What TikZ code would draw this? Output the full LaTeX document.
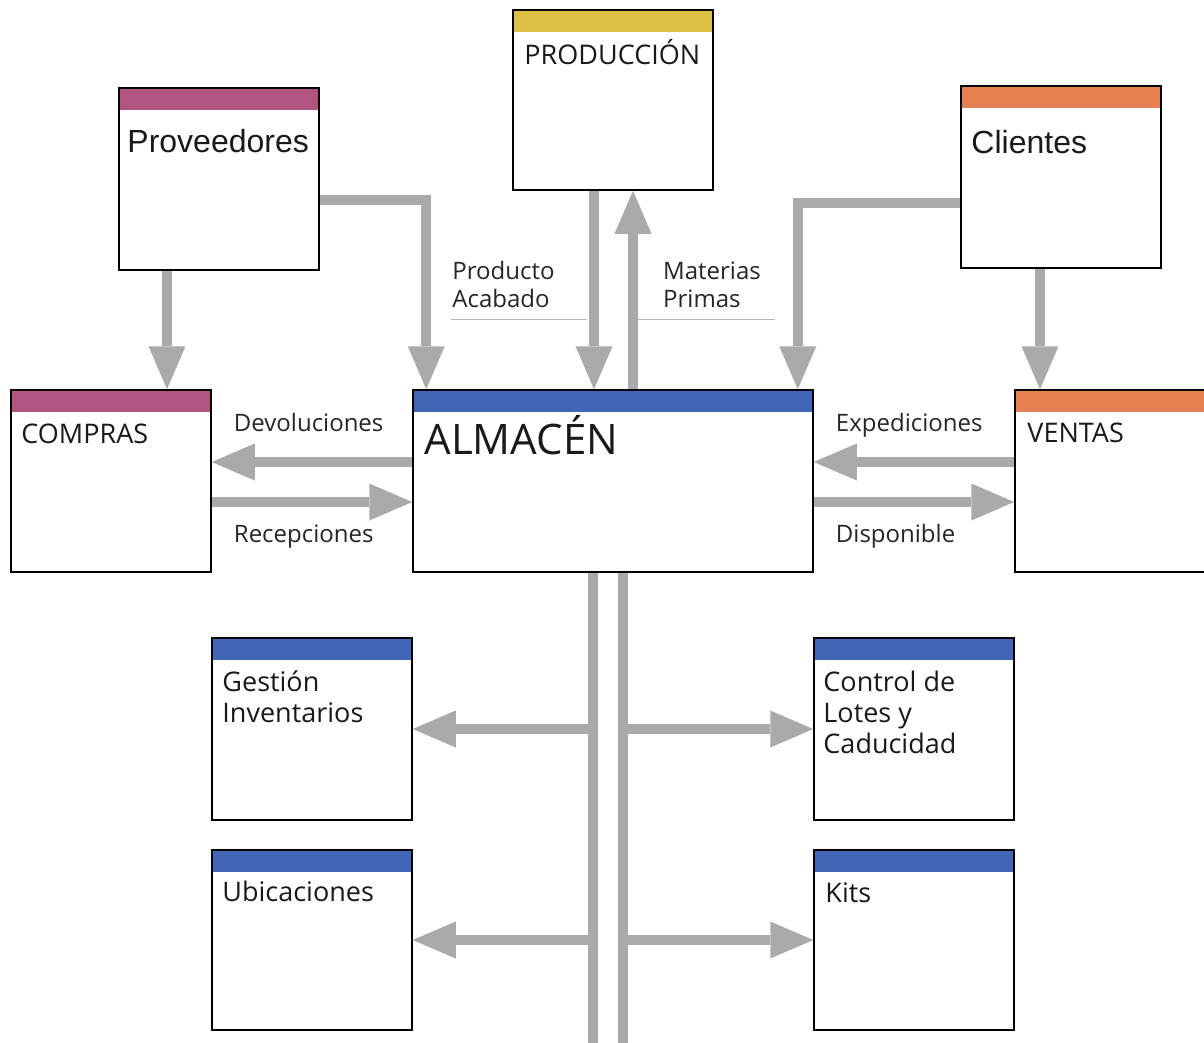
\documentclass[tikz,border=0pt]{standalone}
\usepackage{fontspec}
\setmainfont{Open Sans}
\newfontfamily\finafont{Liberation Sans}
\usetikzlibrary{positioning}
\usetikzlibrary{arrows.meta}
\definecolor{cabMagenta}{RGB}{178,84,128}
\definecolor{cabNaranja}{RGB}{228,128,82}
\definecolor{cabAmarillo}{RGB}{222,192,72}
\definecolor{cabAzul}{RGB}{66,102,182}
\definecolor{grisFlecha}{RGB}{170,170,170}
\definecolor{grisRaya}{RGB}{185,185,185}

\begin{document}
\begin{tikzpicture}[x=1pt,y=-1pt,
  modulo/.style={rectangle,draw=black,line width=1.5pt,minimum width=200pt,minimum height=182pt,inner sep=0pt,
    path picture={\fill[#1] (path picture bounding box.north west) rectangle ([yshift=-22pt]path picture bounding box.north east);}},
  titulo/.style={inner sep=0pt,align=left,font=\fontsize{27}{31}\selectfont,text=black!90},
  fino/.style={inner sep=0pt,font=\finafont\fontsize{32}{38}\selectfont,text=black!90},
  etiqueta/.style={inner sep=0pt,align=left,font=\fontsize{24}{28}\selectfont,text=black!85},
  flecha/.style={draw=grisFlecha,line width=10pt,-{Triangle[width=37pt,length=43pt,line width=0pt]}},
  bus/.style={draw=grisFlecha,line width=10pt},
  raya/.style={draw=grisRaya,line width=1.2pt}]

  \useasboundingbox (0,0) rectangle (1204,1042);

  % cajas
  \node[modulo=cabAzul,minimum width=400pt] (almacen) at (613,481) {};
  \node[modulo=cabMagenta] (compras) [left=502pt of almacen.center,anchor=center] {};
  \node[modulo=cabNaranja] (ventas) [right=502pt of almacen.center,anchor=center] {};
  \node[modulo=cabAmarillo,minimum height=180pt] (produccion) [above=381pt of almacen.center,anchor=center] {};
  \node[modulo=cabMagenta] (proveedores) [above left=302pt and 394pt of almacen.center,anchor=center] {};
  \node[modulo=cabNaranja] (clientes) [above right=304pt and 448pt of almacen.center,anchor=center] {};
  \node[modulo=cabAzul] (gestion) [below left=248pt and 301pt of almacen.center,anchor=center] {};
  \node[modulo=cabAzul] (control) [below right=248pt and 301pt of almacen.center,anchor=center] {};
  \node[modulo=cabAzul,minimum height=180pt] (ubicaciones) [below left=459pt and 301pt of almacen.center,anchor=center] {};
  \node[modulo=cabAzul,minimum height=180pt] (kits) [below right=459pt and 301pt of almacen.center,anchor=center] {};

  % titulos
  \node[titulo,font=\fontsize{42}{48}\selectfont] (tAlmacen) [below right=65pt and 12pt of almacen.north west,anchor=base west] {ALMACÉN};
  \node[titulo] (tCompras) [below right=54pt and 11pt of compras.north west,anchor=base west] {COMPRAS};
  \node[titulo] (tVentas) [below right=53pt and 13pt of ventas.north west,anchor=base west] {VENTAS};
  \node[titulo] (tProduccion) [below right=55pt and 12pt of produccion.north west,anchor=base west] {PRODUCCIÓN};
  \node[fino] (tProveedores) [below right=65pt and 9pt of proveedores.north west,anchor=base west] {Proveedores};
  \node[fino] (tClientes) [below right=68pt and 11pt of clientes.north west,anchor=base west] {Clientes};
  \node[titulo] (tGestion) [below right=85pt and 11pt of gestion.north west,anchor=base west] {Gestión\\Inventarios};
  \node[titulo] (tControl) [below right=116pt and 10pt of control.north west,anchor=base west] {Control de\\Lotes y\\Caducidad};
  \node[titulo] (tUbicaciones) [below right=52pt and 11pt of ubicaciones.north west,anchor=base west] {Ubicaciones};
  \node[titulo] (tKits) [below right=53pt and 12pt of kits.north west,anchor=base west] {Kits};

  % etiquetas de flujos
  \node[etiqueta] (devol) [above right=50pt and 22pt of compras.east,anchor=base west] {Devoluciones};
  \node[etiqueta] (recep) [below right=61pt and 22pt of compras.east,anchor=base west] {Recepciones};
  \node[etiqueta] (exped) [above right=50pt and 22pt of almacen.east,anchor=base west] {Expediciones};
  \node[etiqueta] (dispo) [below right=61pt and 22pt of almacen.east,anchor=base west] {Disponible};
  \node[etiqueta] (acabado) [above right=82pt and 40pt of almacen.north west,anchor=base west] {Producto\\Acabado};
  \node[etiqueta] (primas) [above right=82pt and 50pt of almacen.north,anchor=base west] {Materias\\Primas};
  \draw[raya] ([shift={(39pt,70pt)}]almacen.north west) -- ++(136pt,0pt);
  \draw[raya] ([shift={(25pt,70pt)}]almacen.north) -- ++(137pt,0pt);

  % flechas superiores
  \draw[flecha] ([xshift=-52pt]proveedores.south) -- ([xshift=-52pt]proveedores.south |- compras.north);
  \draw[flecha] ([yshift=-21pt]proveedores.east) -| ([xshift=14pt]almacen.north west);
  \draw[flecha] ([xshift=-19pt]produccion.south) -- ([xshift=-19pt]produccion.south |- almacen.north);
  \draw[flecha] ([xshift=20pt]almacen.north) -- ([xshift=20pt]almacen.north |- produccion.south);
  \draw[flecha] ([yshift=-26pt]clientes.west) -| ([xshift=-16pt]almacen.north east);
  \draw[flecha] ([xshift=-21pt]clientes.south) -- ([xshift=-21pt]clientes.south |- ventas.north);

  % flechas laterales
  \draw[flecha] ([yshift=19pt]almacen.west) -- ([yshift=19pt]compras.east);
  \draw[flecha] ([yshift=-21pt]compras.east) -- ([yshift=-21pt]almacen.west);
  \draw[flecha] ([yshift=19pt]ventas.west) -- ([yshift=19pt]almacen.east);
  \draw[flecha] ([yshift=-21pt]almacen.east) -- ([yshift=-21pt]ventas.west);

  % bus inferior
  \coordinate (busI) at ([xshift=-20pt]almacen.south);
  \coordinate (busD) at ([xshift=10pt]almacen.south);
  \coordinate (fondo) at (613,1046);
  \draw[bus] (busI) -- (busI |- fondo);
  \draw[bus] (busD) -- (busD |- fondo);
  \draw[flecha] (busI |- gestion.east) -- (gestion.east);
  \draw[flecha] (busI |- ubicaciones.east) -- (ubicaciones.east);
  \draw[flecha] (busD |- control.west) -- (control.west);
  \draw[flecha] (busD |- kits.west) -- (kits.west);

\end{tikzpicture}
\end{document}
